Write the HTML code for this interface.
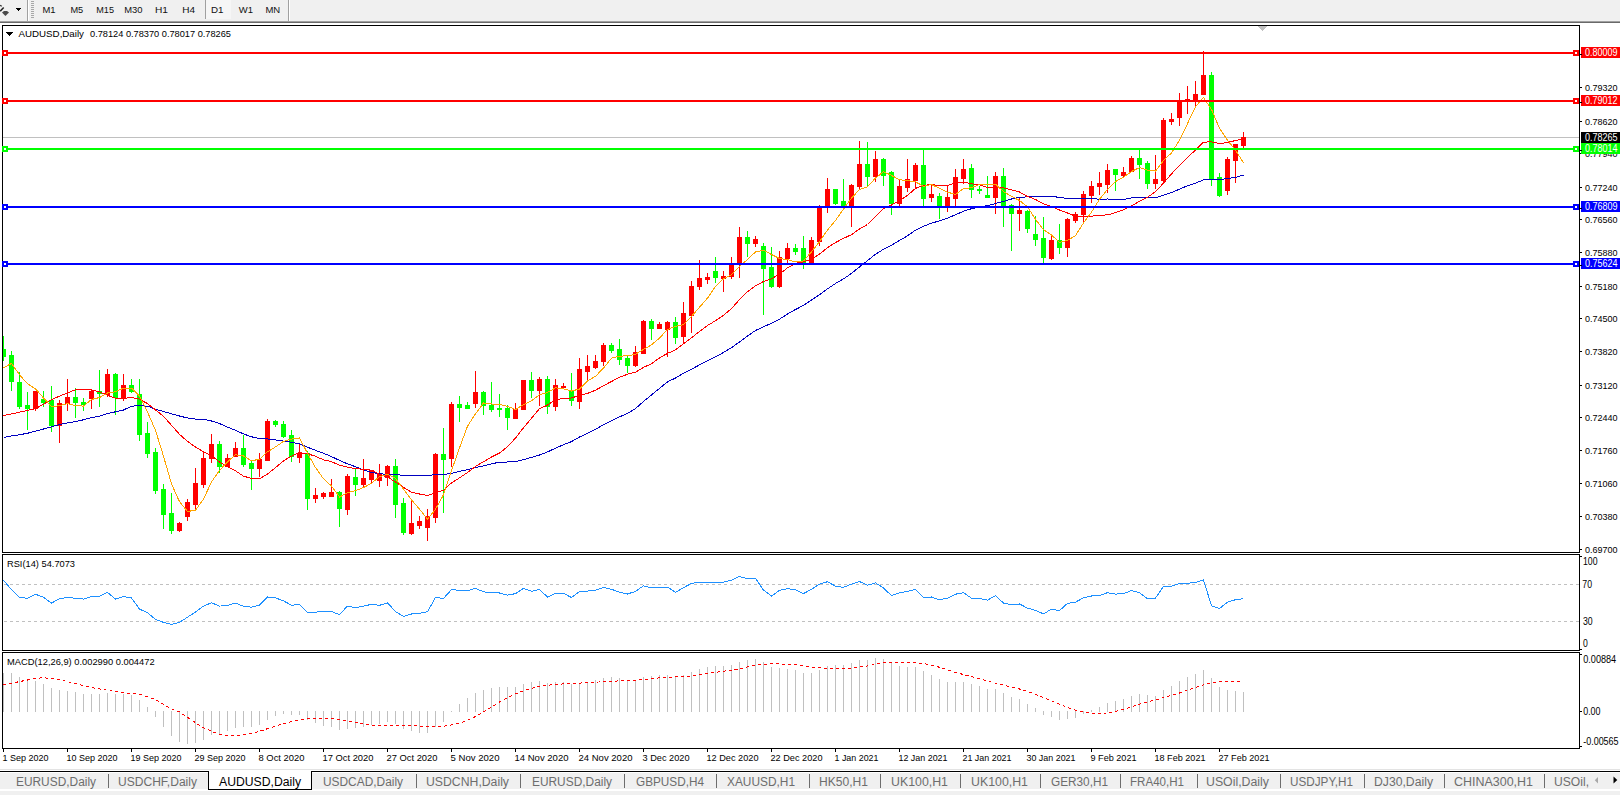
<!DOCTYPE html>
<html><head><meta charset="utf-8"><title>AUDUSD,Daily</title>
<style>html,body{margin:0;padding:0;background:#fff;overflow:hidden;width:1620px;height:795px}svg{display:block}text{font-family:"Liberation Sans",sans-serif}</style>
</head><body>
<svg width="1620" height="795" viewBox="0 0 1620 795" shape-rendering="crispEdges" font-family="Liberation Sans, sans-serif"><rect x="0" y="0" width="1620" height="21" fill="#f0f0f0"/>
<rect x="0" y="21" width="1620" height="1" fill="#a0a0a0"/>
<rect x="0" y="22" width="1620" height="1" fill="#696969"/>
<path d="M0 5.2 L1.8 6.2" stroke="#333" stroke-width="1.3" fill="none" shape-rendering="auto"/>
<path d="M3.7 7.4 L0.2 11.2" stroke="#222" stroke-width="1.5" fill="none" shape-rendering="auto"/>
<path d="M2 12.4 L4 11 L7 11 L9 12.4 L5.4 16 Z" fill="#4a4a4a" shape-rendering="auto"/>
<path d="M16 8 L21 8 L18.5 11 Z" fill="#000"/>
<rect x="27" y="0" width="1" height="21" fill="#a0a0a0"/>
<rect x="28" y="0" width="1" height="21" fill="#ffffff"/>
<rect x="31" y="1" width="3" height="1" fill="#a8a8a8"/>
<rect x="31" y="3" width="3" height="1" fill="#a8a8a8"/>
<rect x="31" y="5" width="3" height="1" fill="#a8a8a8"/>
<rect x="31" y="7" width="3" height="1" fill="#a8a8a8"/>
<rect x="31" y="9" width="3" height="1" fill="#a8a8a8"/>
<rect x="31" y="11" width="3" height="1" fill="#a8a8a8"/>
<rect x="31" y="13" width="3" height="1" fill="#a8a8a8"/>
<rect x="31" y="15" width="3" height="1" fill="#a8a8a8"/>
<rect x="31" y="17" width="3" height="1" fill="#a8a8a8"/>
<rect x="205" y="0" width="1" height="19" fill="#a0a0a0"/>
<rect x="206" y="0" width="25" height="19" fill="#f6f6f6"/>
<rect x="288" y="0" width="1" height="21" fill="#a0a0a0"/>
<rect x="289" y="0" width="1" height="21" fill="#ffffff"/>
<text x="42.5" y="12.8" font-size="9.8" fill="#111" textLength="13.1" lengthAdjust="spacingAndGlyphs">M1</text>
<text x="70.4" y="12.8" font-size="9.8" fill="#111" textLength="12.8" lengthAdjust="spacingAndGlyphs">M5</text>
<text x="96.3" y="12.8" font-size="9.8" fill="#111" textLength="17.7" lengthAdjust="spacingAndGlyphs">M15</text>
<text x="124.2" y="12.8" font-size="9.8" fill="#111" textLength="18.3" lengthAdjust="spacingAndGlyphs">M30</text>
<text x="155" y="12.8" font-size="9.8" fill="#111" textLength="13" lengthAdjust="spacingAndGlyphs">H1</text>
<text x="182.2" y="12.8" font-size="9.8" fill="#111" textLength="12.8" lengthAdjust="spacingAndGlyphs">H4</text>
<text x="211" y="12.8" font-size="9.8" fill="#111" textLength="12.5" lengthAdjust="spacingAndGlyphs">D1</text>
<text x="238.8" y="12.8" font-size="9.8" fill="#111" textLength="14.2" lengthAdjust="spacingAndGlyphs">W1</text>
<text x="265.4" y="12.8" font-size="9.8" fill="#111" textLength="14.8" lengthAdjust="spacingAndGlyphs">MN</text>
<rect x="0" y="23" width="1620" height="772" fill="#ffffff"/>
<rect x="2.5" y="25.5" width="1577" height="527" fill="none" stroke="#000" stroke-width="1"/>
<path d="M1258 26 L1267 26 L1262.5 31 Z" fill="#c0c0c0"/>
<path d="M6 32 L13 32 L9.5 36 Z" fill="#000"/>
<text x="18.5" y="37.2" font-size="9.8" fill="#000" textLength="65.5" lengthAdjust="spacingAndGlyphs">AUDUSD,Daily</text>
<text x="90" y="37.2" font-size="9.8" fill="#000" textLength="141" lengthAdjust="spacingAndGlyphs">0.78124 0.78370 0.78017 0.78265</text>
<rect x="1580" y="87" width="2" height="1" fill="#000"/>
<text x="1585" y="90.5" font-size="9.6" fill="#000" textLength="32.6" lengthAdjust="spacingAndGlyphs">0.79320</text>
<rect x="1580" y="121" width="2" height="1" fill="#000"/>
<text x="1585" y="124.5" font-size="9.6" fill="#000" textLength="32.6" lengthAdjust="spacingAndGlyphs">0.78620</text>
<rect x="1580" y="153" width="2" height="1" fill="#000"/>
<text x="1585" y="156.5" font-size="9.6" fill="#000" textLength="32.6" lengthAdjust="spacingAndGlyphs">0.77940</text>
<rect x="1580" y="187" width="2" height="1" fill="#000"/>
<text x="1585" y="190.5" font-size="9.6" fill="#000" textLength="32.6" lengthAdjust="spacingAndGlyphs">0.77240</text>
<rect x="1580" y="219" width="2" height="1" fill="#000"/>
<text x="1585" y="222.5" font-size="9.6" fill="#000" textLength="32.6" lengthAdjust="spacingAndGlyphs">0.76560</text>
<rect x="1580" y="252" width="2" height="1" fill="#000"/>
<text x="1585" y="255.5" font-size="9.6" fill="#000" textLength="32.6" lengthAdjust="spacingAndGlyphs">0.75880</text>
<rect x="1580" y="286" width="2" height="1" fill="#000"/>
<text x="1585" y="289.5" font-size="9.6" fill="#000" textLength="32.6" lengthAdjust="spacingAndGlyphs">0.75180</text>
<rect x="1580" y="318" width="2" height="1" fill="#000"/>
<text x="1585" y="321.5" font-size="9.6" fill="#000" textLength="32.6" lengthAdjust="spacingAndGlyphs">0.74500</text>
<rect x="1580" y="351" width="2" height="1" fill="#000"/>
<text x="1585" y="354.5" font-size="9.6" fill="#000" textLength="32.6" lengthAdjust="spacingAndGlyphs">0.73820</text>
<rect x="1580" y="385" width="2" height="1" fill="#000"/>
<text x="1585" y="388.5" font-size="9.6" fill="#000" textLength="32.6" lengthAdjust="spacingAndGlyphs">0.73120</text>
<rect x="1580" y="417" width="2" height="1" fill="#000"/>
<text x="1585" y="420.5" font-size="9.6" fill="#000" textLength="32.6" lengthAdjust="spacingAndGlyphs">0.72440</text>
<rect x="1580" y="450" width="2" height="1" fill="#000"/>
<text x="1585" y="453.5" font-size="9.6" fill="#000" textLength="32.6" lengthAdjust="spacingAndGlyphs">0.71760</text>
<rect x="1580" y="483" width="2" height="1" fill="#000"/>
<text x="1585" y="486.5" font-size="9.6" fill="#000" textLength="32.6" lengthAdjust="spacingAndGlyphs">0.71060</text>
<rect x="1580" y="516" width="2" height="1" fill="#000"/>
<text x="1585" y="519.5" font-size="9.6" fill="#000" textLength="32.6" lengthAdjust="spacingAndGlyphs">0.70380</text>
<rect x="1580" y="549" width="2" height="1" fill="#000"/>
<text x="1585" y="552.5" font-size="9.6" fill="#000" textLength="32.6" lengthAdjust="spacingAndGlyphs">0.69700</text>
<rect x="3" y="137" width="1576" height="1" fill="#c0c0c0"/>
<g><rect x="3" y="336" width="1" height="25" fill="#00ff00"/><rect x="3" y="349" width="3" height="8" fill="#00ff00"/><rect x="11" y="351" width="1" height="40" fill="#00ff00"/><rect x="9" y="355" width="5" height="27" fill="#00ff00"/><rect x="19" y="372" width="1" height="37" fill="#00ff00"/><rect x="17" y="382" width="5" height="25" fill="#00ff00"/><rect x="27" y="392" width="1" height="38" fill="#00ff00"/><rect x="25" y="405" width="5" height="4" fill="#00ff00"/><rect x="35" y="391" width="1" height="20" fill="#ff0000"/><rect x="33" y="391" width="5" height="18" fill="#ff0000"/><rect x="43" y="391" width="1" height="16" fill="#00ff00"/><rect x="41" y="399" width="5" height="4" fill="#00ff00"/><rect x="51" y="386" width="1" height="46" fill="#00ff00"/><rect x="49" y="400" width="5" height="26" fill="#00ff00"/><rect x="59" y="400" width="1" height="43" fill="#ff0000"/><rect x="57" y="403" width="5" height="23" fill="#ff0000"/><rect x="67" y="379" width="1" height="32" fill="#ff0000"/><rect x="65" y="397" width="5" height="7" fill="#ff0000"/><rect x="75" y="388" width="1" height="30" fill="#00ff00"/><rect x="73" y="397" width="5" height="6" fill="#00ff00"/><rect x="83" y="398" width="1" height="13" fill="#00ff00"/><rect x="81" y="402" width="5" height="3" fill="#00ff00"/><rect x="91" y="389" width="1" height="20" fill="#ff0000"/><rect x="89" y="391" width="5" height="8" fill="#ff0000"/><rect x="99" y="370" width="1" height="37" fill="#00ff00"/><rect x="97" y="391" width="5" height="3" fill="#00ff00"/><rect x="107" y="369" width="1" height="28" fill="#ff0000"/><rect x="105" y="374" width="5" height="21" fill="#ff0000"/><rect x="115" y="373" width="1" height="42" fill="#00ff00"/><rect x="113" y="374" width="5" height="24" fill="#00ff00"/><rect x="123" y="374" width="1" height="27" fill="#ff0000"/><rect x="121" y="385" width="5" height="13" fill="#ff0000"/><rect x="131" y="379" width="1" height="14" fill="#00ff00"/><rect x="129" y="385" width="5" height="7" fill="#00ff00"/><rect x="139" y="379" width="1" height="62" fill="#00ff00"/><rect x="137" y="394" width="5" height="41" fill="#00ff00"/><rect x="147" y="422" width="1" height="36" fill="#00ff00"/><rect x="145" y="433" width="5" height="21" fill="#00ff00"/><rect x="155" y="448" width="1" height="46" fill="#00ff00"/><rect x="153" y="452" width="5" height="39" fill="#00ff00"/><rect x="163" y="484" width="1" height="45" fill="#00ff00"/><rect x="161" y="489" width="5" height="26" fill="#00ff00"/><rect x="171" y="493" width="1" height="41" fill="#00ff00"/><rect x="169" y="513" width="5" height="18" fill="#00ff00"/><rect x="179" y="522" width="1" height="10" fill="#ff0000"/><rect x="177" y="523" width="5" height="8" fill="#ff0000"/><rect x="187" y="499" width="1" height="22" fill="#ff0000"/><rect x="185" y="502" width="5" height="15" fill="#ff0000"/><rect x="195" y="468" width="1" height="41" fill="#ff0000"/><rect x="193" y="483" width="5" height="22" fill="#ff0000"/><rect x="203" y="451" width="1" height="37" fill="#ff0000"/><rect x="201" y="458" width="5" height="27" fill="#ff0000"/><rect x="211" y="434" width="1" height="29" fill="#ff0000"/><rect x="209" y="444" width="5" height="15" fill="#ff0000"/><rect x="219" y="441" width="1" height="32" fill="#00ff00"/><rect x="217" y="444" width="5" height="23" fill="#00ff00"/><rect x="227" y="454" width="1" height="13" fill="#ff0000"/><rect x="225" y="458" width="5" height="9" fill="#ff0000"/><rect x="235" y="442" width="1" height="15" fill="#ff0000"/><rect x="233" y="448" width="5" height="9" fill="#ff0000"/><rect x="243" y="435" width="1" height="32" fill="#00ff00"/><rect x="241" y="448" width="5" height="17" fill="#00ff00"/><rect x="251" y="461" width="1" height="29" fill="#00ff00"/><rect x="249" y="463" width="5" height="6" fill="#00ff00"/><rect x="259" y="453" width="1" height="24" fill="#ff0000"/><rect x="257" y="459" width="5" height="10" fill="#ff0000"/><rect x="267" y="419" width="1" height="42" fill="#ff0000"/><rect x="265" y="421" width="5" height="40" fill="#ff0000"/><rect x="275" y="420" width="1" height="7" fill="#00ff00"/><rect x="273" y="421" width="5" height="4" fill="#00ff00"/><rect x="283" y="421" width="1" height="17" fill="#00ff00"/><rect x="281" y="424" width="5" height="13" fill="#00ff00"/><rect x="291" y="430" width="1" height="32" fill="#00ff00"/><rect x="289" y="435" width="5" height="22" fill="#00ff00"/><rect x="299" y="444" width="1" height="19" fill="#ff0000"/><rect x="297" y="453" width="5" height="5" fill="#ff0000"/><rect x="307" y="451" width="1" height="59" fill="#00ff00"/><rect x="305" y="453" width="5" height="46" fill="#00ff00"/><rect x="315" y="488" width="1" height="15" fill="#ff0000"/><rect x="313" y="495" width="5" height="4" fill="#ff0000"/><rect x="323" y="492" width="1" height="7" fill="#ff0000"/><rect x="321" y="493" width="5" height="4" fill="#ff0000"/><rect x="331" y="479" width="1" height="18" fill="#ff0000"/><rect x="329" y="492" width="5" height="5" fill="#ff0000"/><rect x="339" y="491" width="1" height="36" fill="#00ff00"/><rect x="337" y="492" width="5" height="17" fill="#00ff00"/><rect x="347" y="474" width="1" height="41" fill="#ff0000"/><rect x="345" y="476" width="5" height="34" fill="#ff0000"/><rect x="355" y="469" width="1" height="27" fill="#00ff00"/><rect x="353" y="477" width="5" height="8" fill="#00ff00"/><rect x="363" y="459" width="1" height="28" fill="#ff0000"/><rect x="361" y="478" width="5" height="7" fill="#ff0000"/><rect x="371" y="470" width="1" height="14" fill="#ff0000"/><rect x="369" y="470" width="5" height="10" fill="#ff0000"/><rect x="379" y="464" width="1" height="23" fill="#ff0000"/><rect x="377" y="474" width="5" height="7" fill="#ff0000"/><rect x="387" y="465" width="1" height="21" fill="#ff0000"/><rect x="385" y="466" width="5" height="12" fill="#ff0000"/><rect x="395" y="459" width="1" height="59" fill="#00ff00"/><rect x="393" y="466" width="5" height="39" fill="#00ff00"/><rect x="403" y="498" width="1" height="37" fill="#00ff00"/><rect x="401" y="503" width="5" height="30" fill="#00ff00"/><rect x="411" y="501" width="1" height="34" fill="#ff0000"/><rect x="409" y="523" width="5" height="11" fill="#ff0000"/><rect x="419" y="516" width="1" height="13" fill="#ff0000"/><rect x="417" y="521" width="5" height="5" fill="#ff0000"/><rect x="427" y="509" width="1" height="32" fill="#ff0000"/><rect x="425" y="516" width="5" height="12" fill="#ff0000"/><rect x="435" y="453" width="1" height="70" fill="#ff0000"/><rect x="433" y="454" width="5" height="64" fill="#ff0000"/><rect x="443" y="428" width="1" height="85" fill="#00ff00"/><rect x="441" y="454" width="5" height="6" fill="#00ff00"/><rect x="451" y="402" width="1" height="65" fill="#ff0000"/><rect x="449" y="404" width="5" height="55" fill="#ff0000"/><rect x="459" y="396" width="1" height="26" fill="#00ff00"/><rect x="457" y="404" width="5" height="4" fill="#00ff00"/><rect x="467" y="402" width="1" height="7" fill="#00ff00"/><rect x="465" y="405" width="5" height="4" fill="#00ff00"/><rect x="475" y="371" width="1" height="37" fill="#ff0000"/><rect x="473" y="392" width="5" height="12" fill="#ff0000"/><rect x="483" y="391" width="1" height="24" fill="#00ff00"/><rect x="481" y="392" width="5" height="14" fill="#00ff00"/><rect x="491" y="382" width="1" height="30" fill="#00ff00"/><rect x="489" y="405" width="5" height="5" fill="#00ff00"/><rect x="499" y="394" width="1" height="23" fill="#00ff00"/><rect x="497" y="408" width="5" height="2" fill="#00ff00"/><rect x="507" y="405" width="1" height="25" fill="#00ff00"/><rect x="505" y="408" width="5" height="10" fill="#00ff00"/><rect x="515" y="403" width="1" height="16" fill="#ff0000"/><rect x="513" y="409" width="5" height="10" fill="#ff0000"/><rect x="523" y="380" width="1" height="30" fill="#ff0000"/><rect x="521" y="380" width="5" height="30" fill="#ff0000"/><rect x="531" y="372" width="1" height="26" fill="#00ff00"/><rect x="529" y="380" width="5" height="11" fill="#00ff00"/><rect x="539" y="377" width="1" height="29" fill="#ff0000"/><rect x="537" y="379" width="5" height="12" fill="#ff0000"/><rect x="547" y="376" width="1" height="38" fill="#00ff00"/><rect x="545" y="379" width="5" height="28" fill="#00ff00"/><rect x="555" y="379" width="1" height="32" fill="#ff0000"/><rect x="553" y="385" width="5" height="22" fill="#ff0000"/><rect x="563" y="383" width="1" height="6" fill="#ff0000"/><rect x="561" y="386" width="5" height="2" fill="#ff0000"/><rect x="571" y="373" width="1" height="33" fill="#00ff00"/><rect x="569" y="390" width="5" height="11" fill="#00ff00"/><rect x="579" y="358" width="1" height="51" fill="#ff0000"/><rect x="577" y="369" width="5" height="33" fill="#ff0000"/><rect x="587" y="355" width="1" height="26" fill="#ff0000"/><rect x="585" y="366" width="5" height="6" fill="#ff0000"/><rect x="595" y="355" width="1" height="14" fill="#ff0000"/><rect x="593" y="361" width="5" height="7" fill="#ff0000"/><rect x="603" y="343" width="1" height="23" fill="#ff0000"/><rect x="601" y="345" width="5" height="17" fill="#ff0000"/><rect x="611" y="343" width="1" height="10" fill="#00ff00"/><rect x="609" y="345" width="5" height="6" fill="#00ff00"/><rect x="619" y="339" width="1" height="26" fill="#00ff00"/><rect x="617" y="349" width="5" height="11" fill="#00ff00"/><rect x="627" y="356" width="1" height="17" fill="#00ff00"/><rect x="625" y="358" width="5" height="8" fill="#00ff00"/><rect x="635" y="346" width="1" height="21" fill="#ff0000"/><rect x="633" y="352" width="5" height="14" fill="#ff0000"/><rect x="643" y="320" width="1" height="34" fill="#ff0000"/><rect x="641" y="321" width="5" height="33" fill="#ff0000"/><rect x="651" y="319" width="1" height="21" fill="#00ff00"/><rect x="649" y="321" width="5" height="8" fill="#00ff00"/><rect x="659" y="322" width="1" height="7" fill="#ff0000"/><rect x="657" y="324" width="5" height="5" fill="#ff0000"/><rect x="667" y="321" width="1" height="36" fill="#ff0000"/><rect x="665" y="322" width="5" height="8" fill="#ff0000"/><rect x="675" y="317" width="1" height="27" fill="#00ff00"/><rect x="673" y="322" width="5" height="16" fill="#00ff00"/><rect x="683" y="302" width="1" height="41" fill="#ff0000"/><rect x="681" y="313" width="5" height="24" fill="#ff0000"/><rect x="691" y="281" width="1" height="52" fill="#ff0000"/><rect x="689" y="286" width="5" height="30" fill="#ff0000"/><rect x="699" y="260" width="1" height="30" fill="#ff0000"/><rect x="697" y="278" width="5" height="9" fill="#ff0000"/><rect x="707" y="273" width="1" height="11" fill="#ff0000"/><rect x="705" y="277" width="5" height="3" fill="#ff0000"/><rect x="715" y="257" width="1" height="26" fill="#00ff00"/><rect x="713" y="271" width="5" height="7" fill="#00ff00"/><rect x="723" y="271" width="1" height="21" fill="#ff0000"/><rect x="721" y="276" width="5" height="3" fill="#ff0000"/><rect x="731" y="257" width="1" height="22" fill="#ff0000"/><rect x="729" y="265" width="5" height="12" fill="#ff0000"/><rect x="739" y="227" width="1" height="51" fill="#ff0000"/><rect x="737" y="237" width="5" height="28" fill="#ff0000"/><rect x="747" y="231" width="1" height="26" fill="#00ff00"/><rect x="745" y="237" width="5" height="7" fill="#00ff00"/><rect x="755" y="236" width="1" height="11" fill="#ff0000"/><rect x="753" y="239" width="5" height="5" fill="#ff0000"/><rect x="763" y="243" width="1" height="72" fill="#00ff00"/><rect x="761" y="246" width="5" height="23" fill="#00ff00"/><rect x="771" y="247" width="1" height="41" fill="#00ff00"/><rect x="769" y="267" width="5" height="20" fill="#00ff00"/><rect x="779" y="251" width="1" height="37" fill="#ff0000"/><rect x="777" y="257" width="5" height="30" fill="#ff0000"/><rect x="787" y="243" width="1" height="20" fill="#ff0000"/><rect x="785" y="248" width="5" height="11" fill="#ff0000"/><rect x="795" y="244" width="1" height="11" fill="#00ff00"/><rect x="793" y="248" width="5" height="4" fill="#00ff00"/><rect x="803" y="236" width="1" height="33" fill="#00ff00"/><rect x="801" y="248" width="5" height="16" fill="#00ff00"/><rect x="811" y="237" width="1" height="27" fill="#ff0000"/><rect x="809" y="240" width="5" height="24" fill="#ff0000"/><rect x="819" y="205" width="1" height="41" fill="#ff0000"/><rect x="817" y="207" width="5" height="35" fill="#ff0000"/><rect x="827" y="178" width="1" height="35" fill="#ff0000"/><rect x="825" y="189" width="5" height="18" fill="#ff0000"/><rect x="835" y="189" width="1" height="16" fill="#00ff00"/><rect x="833" y="189" width="5" height="15" fill="#00ff00"/><rect x="843" y="179" width="1" height="29" fill="#00ff00"/><rect x="841" y="201" width="5" height="6" fill="#00ff00"/><rect x="851" y="184" width="1" height="43" fill="#ff0000"/><rect x="849" y="185" width="5" height="21" fill="#ff0000"/><rect x="859" y="141" width="1" height="49" fill="#ff0000"/><rect x="857" y="164" width="5" height="23" fill="#ff0000"/><rect x="867" y="142" width="1" height="45" fill="#00ff00"/><rect x="865" y="164" width="5" height="13" fill="#00ff00"/><rect x="875" y="151" width="1" height="31" fill="#ff0000"/><rect x="873" y="159" width="5" height="18" fill="#ff0000"/><rect x="883" y="158" width="1" height="28" fill="#00ff00"/><rect x="881" y="159" width="5" height="17" fill="#00ff00"/><rect x="891" y="171" width="1" height="44" fill="#00ff00"/><rect x="889" y="172" width="5" height="32" fill="#00ff00"/><rect x="899" y="180" width="1" height="27" fill="#ff0000"/><rect x="897" y="186" width="5" height="18" fill="#ff0000"/><rect x="907" y="159" width="1" height="33" fill="#ff0000"/><rect x="905" y="179" width="5" height="9" fill="#ff0000"/><rect x="915" y="163" width="1" height="25" fill="#ff0000"/><rect x="913" y="165" width="5" height="16" fill="#ff0000"/><rect x="923" y="149" width="1" height="57" fill="#00ff00"/><rect x="921" y="165" width="5" height="34" fill="#00ff00"/><rect x="931" y="185" width="1" height="17" fill="#ff0000"/><rect x="929" y="194" width="5" height="4" fill="#ff0000"/><rect x="939" y="193" width="1" height="26" fill="#00ff00"/><rect x="937" y="196" width="5" height="11" fill="#00ff00"/><rect x="947" y="186" width="1" height="26" fill="#ff0000"/><rect x="945" y="197" width="5" height="10" fill="#ff0000"/><rect x="955" y="169" width="1" height="37" fill="#ff0000"/><rect x="953" y="177" width="5" height="22" fill="#ff0000"/><rect x="963" y="159" width="1" height="25" fill="#ff0000"/><rect x="961" y="169" width="5" height="10" fill="#ff0000"/><rect x="971" y="164" width="1" height="34" fill="#00ff00"/><rect x="969" y="168" width="5" height="22" fill="#00ff00"/><rect x="979" y="186" width="1" height="8" fill="#00ff00"/><rect x="977" y="189" width="5" height="2" fill="#00ff00"/><rect x="987" y="176" width="1" height="22" fill="#00ff00"/><rect x="985" y="195" width="5" height="3" fill="#00ff00"/><rect x="995" y="172" width="1" height="42" fill="#ff0000"/><rect x="993" y="176" width="5" height="22" fill="#ff0000"/><rect x="1003" y="168" width="1" height="59" fill="#00ff00"/><rect x="1001" y="176" width="5" height="31" fill="#00ff00"/><rect x="1011" y="204" width="1" height="47" fill="#00ff00"/><rect x="1009" y="205" width="5" height="9" fill="#00ff00"/><rect x="1019" y="198" width="1" height="33" fill="#ff0000"/><rect x="1017" y="210" width="5" height="4" fill="#ff0000"/><rect x="1027" y="210" width="1" height="23" fill="#00ff00"/><rect x="1025" y="211" width="5" height="18" fill="#00ff00"/><rect x="1035" y="216" width="1" height="30" fill="#00ff00"/><rect x="1033" y="234" width="5" height="6" fill="#00ff00"/><rect x="1043" y="217" width="1" height="46" fill="#00ff00"/><rect x="1041" y="238" width="5" height="20" fill="#00ff00"/><rect x="1051" y="236" width="1" height="24" fill="#ff0000"/><rect x="1049" y="240" width="5" height="19" fill="#ff0000"/><rect x="1059" y="224" width="1" height="30" fill="#00ff00"/><rect x="1057" y="240" width="5" height="8" fill="#00ff00"/><rect x="1067" y="218" width="1" height="39" fill="#ff0000"/><rect x="1065" y="219" width="5" height="29" fill="#ff0000"/><rect x="1075" y="212" width="1" height="11" fill="#ff0000"/><rect x="1073" y="214" width="5" height="7" fill="#ff0000"/><rect x="1083" y="191" width="1" height="33" fill="#ff0000"/><rect x="1081" y="194" width="5" height="21" fill="#ff0000"/><rect x="1091" y="181" width="1" height="22" fill="#ff0000"/><rect x="1089" y="186" width="5" height="10" fill="#ff0000"/><rect x="1099" y="172" width="1" height="23" fill="#ff0000"/><rect x="1097" y="183" width="5" height="4" fill="#ff0000"/><rect x="1107" y="164" width="1" height="29" fill="#ff0000"/><rect x="1105" y="170" width="5" height="15" fill="#ff0000"/><rect x="1115" y="169" width="1" height="22" fill="#00ff00"/><rect x="1113" y="169" width="5" height="6" fill="#00ff00"/><rect x="1123" y="167" width="1" height="10" fill="#ff0000"/><rect x="1121" y="172" width="5" height="4" fill="#ff0000"/><rect x="1131" y="156" width="1" height="16" fill="#ff0000"/><rect x="1129" y="158" width="5" height="14" fill="#ff0000"/><rect x="1139" y="149" width="1" height="30" fill="#00ff00"/><rect x="1137" y="158" width="5" height="7" fill="#00ff00"/><rect x="1147" y="161" width="1" height="28" fill="#00ff00"/><rect x="1145" y="163" width="5" height="21" fill="#00ff00"/><rect x="1155" y="155" width="1" height="34" fill="#ff0000"/><rect x="1153" y="179" width="5" height="5" fill="#ff0000"/><rect x="1163" y="118" width="1" height="64" fill="#ff0000"/><rect x="1161" y="120" width="5" height="61" fill="#ff0000"/><rect x="1171" y="113" width="1" height="12" fill="#ff0000"/><rect x="1169" y="119" width="5" height="3" fill="#ff0000"/><rect x="1179" y="93" width="1" height="33" fill="#ff0000"/><rect x="1177" y="101" width="5" height="17" fill="#ff0000"/><rect x="1187" y="86" width="1" height="28" fill="#ff0000"/><rect x="1185" y="99" width="5" height="2" fill="#ff0000"/><rect x="1195" y="81" width="1" height="26" fill="#ff0000"/><rect x="1193" y="94" width="5" height="8" fill="#ff0000"/><rect x="1203" y="51" width="1" height="44" fill="#ff0000"/><rect x="1201" y="75" width="5" height="20" fill="#ff0000"/><rect x="1211" y="72" width="1" height="114" fill="#00ff00"/><rect x="1209" y="75" width="5" height="104" fill="#00ff00"/><rect x="1219" y="173" width="1" height="24" fill="#00ff00"/><rect x="1217" y="177" width="5" height="19" fill="#00ff00"/><rect x="1227" y="157" width="1" height="38" fill="#ff0000"/><rect x="1225" y="159" width="5" height="32" fill="#ff0000"/><rect x="1235" y="144" width="1" height="39" fill="#ff0000"/><rect x="1233" y="144" width="5" height="17" fill="#ff0000"/><rect x="1243" y="132" width="1" height="17" fill="#ff0000"/><rect x="1241" y="137" width="5" height="9" fill="#ff0000"/></g>
<polyline points="3.5,437.4 11.5,436.0 19.5,434.7 27.5,433.3 35.5,431.1 43.5,429.0 51.5,426.8 59.5,424.5 67.5,423.0 75.5,421.5 83.5,419.8 91.5,417.5 99.5,416.3 107.5,413.5 115.5,411.8 123.5,410.0 131.5,406.2 139.5,405.5 147.5,406.2 155.5,409.2 163.5,411.5 171.5,413.8 179.5,416.0 187.5,418.0 195.5,419.1 203.5,419.1 211.5,421.0 219.5,423.6 227.5,427.1 235.5,430.3 243.5,433.9 251.5,436.8 259.5,438.5 267.5,438.9 275.5,440.0 283.5,441.1 291.5,442.2 299.5,443.9 307.5,447.2 315.5,450.3 323.5,453.3 331.5,456.6 339.5,460.4 347.5,463.9 355.5,466.7 363.5,469.9 371.5,472.5 379.5,473.8 387.5,474.3 395.5,474.7 403.5,475.3 411.5,475.1 419.5,475.1 427.5,475.5 435.5,474.6 443.5,474.6 451.5,473.3 459.5,471.3 467.5,469.6 475.5,467.7 483.5,465.8 491.5,463.8 499.5,462.2 507.5,462.0 515.5,461.5 523.5,459.7 531.5,457.4 539.5,455.0 547.5,451.9 555.5,448.2 563.5,444.7 571.5,441.6 579.5,437.0 587.5,433.3 595.5,429.2 603.5,424.8 611.5,420.7 619.5,416.9 627.5,413.5 635.5,408.5 643.5,401.5 651.5,394.9 659.5,388.4 667.5,381.9 675.5,378.0 683.5,373.1 691.5,369.2 699.5,364.9 707.5,360.6 715.5,356.8 723.5,352.5 731.5,347.7 739.5,341.9 747.5,336.1 755.5,330.5 763.5,326.7 771.5,323.3 779.5,319.2 787.5,314.0 795.5,309.5 803.5,305.4 811.5,300.1 819.5,294.7 827.5,288.8 835.5,283.5 843.5,278.9 851.5,273.4 859.5,266.9 867.5,260.6 875.5,254.2 883.5,249.3 891.5,245.1 899.5,240.5 907.5,235.8 915.5,230.1 923.5,226.2 931.5,223.2 939.5,220.8 947.5,218.1 955.5,214.8 963.5,211.2 971.5,208.7 979.5,207.1 987.5,205.6 995.5,203.5 1003.5,201.4 1011.5,199.0 1019.5,197.4 1027.5,196.8 1035.5,196.4 1043.5,196.2 1051.5,196.2 1059.5,197.5 1067.5,198.5 1075.5,198.9 1083.5,198.5 1091.5,198.5 1099.5,199.2 1107.5,199.0 1115.5,199.5 1123.5,199.4 1131.5,197.9 1139.5,197.1 1147.5,197.2 1155.5,197.7 1163.5,195.1 1171.5,192.6 1179.5,189.1 1187.5,185.8 1195.5,183.1 1203.5,179.9 1211.5,179.6 1219.5,179.7 1227.5,178.5 1235.5,177.4 1243.5,175.1" fill="none" stroke="#0000c0" stroke-width="1" />
<polyline points="3.5,415.5 11.5,413.9 19.5,412.2 27.5,410.4 35.5,408.7 43.5,404.1 51.5,399.6 59.5,396.2 67.5,392.8 75.5,389.8 83.5,389.3 91.5,389.9 99.5,391.9 107.5,395.3 115.5,398.2 123.5,398.5 131.5,397.4 139.5,399.2 147.5,403.6 155.5,409.9 163.5,416.3 171.5,425.3 179.5,434.3 187.5,441.4 195.5,447.1 203.5,451.8 211.5,455.4 219.5,462.0 227.5,466.4 235.5,470.9 243.5,476.1 251.5,478.5 259.5,478.9 267.5,474.0 275.5,467.6 283.5,460.9 291.5,456.1 299.5,452.6 307.5,453.7 315.5,456.3 323.5,459.8 331.5,461.7 339.5,465.2 347.5,467.2 355.5,468.6 363.5,469.4 371.5,470.2 379.5,474.1 387.5,477.1 395.5,481.9 403.5,487.3 411.5,492.3 419.5,494.0 427.5,495.5 435.5,492.7 443.5,490.4 451.5,482.9 459.5,477.9 467.5,472.5 475.5,466.4 483.5,461.7 491.5,457.0 499.5,453.0 507.5,446.8 515.5,438.0 523.5,427.7 531.5,418.3 539.5,408.6 547.5,405.1 555.5,399.8 563.5,398.5 571.5,398.0 579.5,395.3 587.5,393.4 595.5,390.2 603.5,385.7 611.5,381.5 619.5,377.3 627.5,374.2 635.5,372.2 643.5,367.4 651.5,363.7 659.5,357.9 667.5,353.4 675.5,349.9 683.5,343.7 691.5,337.8 699.5,331.5 707.5,325.5 715.5,320.7 723.5,315.4 731.5,308.6 739.5,299.5 747.5,291.7 755.5,285.8 763.5,281.5 771.5,278.8 779.5,274.2 787.5,267.8 795.5,263.4 803.5,261.8 811.5,259.0 819.5,254.1 827.5,247.7 835.5,242.5 843.5,238.4 851.5,234.6 859.5,229.0 867.5,224.5 875.5,216.7 883.5,208.8 891.5,205.0 899.5,200.6 907.5,195.4 915.5,188.4 923.5,185.4 931.5,184.5 939.5,185.7 947.5,185.3 955.5,183.2 963.5,182.0 971.5,183.8 979.5,184.9 987.5,187.6 995.5,187.6 1003.5,187.8 1011.5,189.8 1019.5,192.0 1027.5,196.5 1035.5,199.4 1043.5,203.9 1051.5,206.4 1059.5,210.0 1067.5,213.0 1075.5,216.2 1083.5,216.6 1091.5,216.2 1099.5,215.3 1107.5,214.9 1115.5,212.6 1123.5,209.7 1131.5,205.9 1139.5,201.3 1147.5,197.3 1155.5,191.7 1163.5,183.1 1171.5,173.9 1179.5,165.5 1187.5,157.3 1195.5,150.1 1203.5,142.2 1211.5,141.8 1219.5,143.6 1227.5,142.5 1235.5,140.5 1243.5,139.1" fill="none" stroke="#ff0000" stroke-width="1" />
<polyline points="3.5,367.9 11.5,363.4 19.5,374.7 27.5,383.8 35.5,388.8 43.5,397.9 51.5,406.5 59.5,405.8 67.5,403.5 75.5,405.7 83.5,406.1 91.5,399.5 99.5,397.5 107.5,393.0 115.5,391.8 123.5,388.1 131.5,388.1 139.5,396.2 147.5,411.9 155.5,430.5 163.5,456.2 171.5,483.9 179.5,501.7 187.5,511.5 195.5,510.2 203.5,499.1 211.5,481.9 219.5,470.5 227.5,461.8 235.5,454.8 243.5,456.0 251.5,460.7 259.5,459.3 267.5,451.8 275.5,446.9 283.5,441.4 291.5,439.1 299.5,437.9 307.5,453.3 315.5,467.5 323.5,478.8 331.5,486.0 339.5,497.0 347.5,492.8 355.5,490.6 363.5,487.6 371.5,483.3 379.5,476.6 387.5,474.4 395.5,478.4 403.5,489.2 411.5,499.8 419.5,509.1 427.5,519.1 435.5,509.3 443.5,494.7 451.5,470.7 459.5,447.9 467.5,426.2 475.5,413.8 483.5,403.0 491.5,404.0 499.5,404.5 507.5,406.3 515.5,409.6 523.5,404.6 531.5,400.8 539.5,394.8 547.5,392.5 555.5,387.8 563.5,388.9 571.5,391.0 579.5,389.0 587.5,381.1 595.5,376.3 603.5,368.1 611.5,358.1 619.5,356.1 627.5,355.9 635.5,354.2 643.5,349.5 651.5,344.9 659.5,338.0 667.5,329.5 675.5,326.3 683.5,324.7 691.5,316.4 699.5,307.2 707.5,298.1 715.5,286.3 723.5,278.9 731.5,274.6 739.5,266.4 747.5,259.5 755.5,251.9 763.5,250.2 771.5,254.5 779.5,258.5 787.5,259.6 795.5,262.0 803.5,261.0 811.5,251.8 819.5,241.8 827.5,230.0 835.5,220.4 843.5,209.1 851.5,198.1 859.5,189.5 867.5,186.8 875.5,178.0 883.5,171.8 891.5,175.4 899.5,179.8 907.5,180.6 915.5,181.8 923.5,186.3 931.5,184.5 939.5,188.4 947.5,192.1 955.5,194.5 963.5,188.6 971.5,187.7 979.5,184.5 987.5,184.4 995.5,184.1 1003.5,191.6 1011.5,196.4 1019.5,200.5 1027.5,206.8 1035.5,219.4 1043.5,229.6 1051.5,235.0 1059.5,242.4 1067.5,240.5 1075.5,235.6 1083.5,223.0 1091.5,212.1 1099.5,199.3 1107.5,189.5 1115.5,181.5 1123.5,177.2 1131.5,171.5 1139.5,167.6 1147.5,170.1 1155.5,171.1 1163.5,160.6 1171.5,152.9 1179.5,140.3 1187.5,123.6 1195.5,106.6 1203.5,97.6 1211.5,109.4 1219.5,128.3 1227.5,140.2 1235.5,150.3 1243.5,162.7" fill="none" stroke="#ffa500" stroke-width="1" />
<rect x="3" y="52" width="1576" height="2" fill="#ff0000"/>
<rect x="2" y="50" width="6" height="6" fill="#ff0000"/>
<rect x="4" y="52" width="2" height="2" fill="#fff"/>
<rect x="1573" y="50" width="6" height="6" fill="#ff0000"/>
<rect x="1575" y="52" width="2" height="2" fill="#fff"/>
<rect x="1581" y="47" width="39" height="11" fill="#ff0000"/>
<rect x="1580" y="54" width="2" height="1" fill="#000"/>
<text x="1585" y="55.6" font-size="10" fill="#fff" textLength="32.6" lengthAdjust="spacingAndGlyphs">0.80009</text>
<rect x="3" y="100" width="1576" height="2" fill="#ff0000"/>
<rect x="2" y="98" width="6" height="6" fill="#ff0000"/>
<rect x="4" y="100" width="2" height="2" fill="#fff"/>
<rect x="1573" y="98" width="6" height="6" fill="#ff0000"/>
<rect x="1575" y="100" width="2" height="2" fill="#fff"/>
<rect x="1581" y="95" width="39" height="11" fill="#ff0000"/>
<rect x="1580" y="102" width="2" height="1" fill="#000"/>
<text x="1585" y="103.6" font-size="10" fill="#fff" textLength="32.6" lengthAdjust="spacingAndGlyphs">0.79012</text>
<rect x="3" y="148" width="1576" height="2" fill="#00ff00"/>
<rect x="2" y="146" width="6" height="6" fill="#00ff00"/>
<rect x="4" y="148" width="2" height="2" fill="#fff"/>
<rect x="1573" y="146" width="6" height="6" fill="#00ff00"/>
<rect x="1575" y="148" width="2" height="2" fill="#fff"/>
<rect x="1581" y="143" width="39" height="11" fill="#00ff00"/>
<rect x="1580" y="150" width="2" height="1" fill="#000"/>
<text x="1585" y="151.6" font-size="10" fill="#fff" textLength="32.6" lengthAdjust="spacingAndGlyphs">0.78014</text>
<rect x="3" y="206" width="1576" height="2" fill="#0000ff"/>
<rect x="2" y="204" width="6" height="6" fill="#0000ff"/>
<rect x="4" y="206" width="2" height="2" fill="#fff"/>
<rect x="1573" y="204" width="6" height="6" fill="#0000ff"/>
<rect x="1575" y="206" width="2" height="2" fill="#fff"/>
<rect x="1581" y="201" width="39" height="11" fill="#0000ff"/>
<rect x="1580" y="208" width="2" height="1" fill="#000"/>
<text x="1585" y="209.6" font-size="10" fill="#fff" textLength="32.6" lengthAdjust="spacingAndGlyphs">0.76809</text>
<rect x="3" y="263" width="1576" height="2" fill="#0000ff"/>
<rect x="2" y="261" width="6" height="6" fill="#0000ff"/>
<rect x="4" y="263" width="2" height="2" fill="#fff"/>
<rect x="1573" y="261" width="6" height="6" fill="#0000ff"/>
<rect x="1575" y="263" width="2" height="2" fill="#fff"/>
<rect x="1581" y="258" width="39" height="11" fill="#0000ff"/>
<rect x="1580" y="265" width="2" height="1" fill="#000"/>
<text x="1585" y="266.6" font-size="10" fill="#fff" textLength="32.6" lengthAdjust="spacingAndGlyphs">0.75624</text>
<rect x="1581" y="132" width="39" height="11" fill="#000"/>
<text x="1585" y="140.6" font-size="10" fill="#fff" textLength="32.6" lengthAdjust="spacingAndGlyphs">0.78265</text>
<rect x="2.5" y="554.5" width="1577" height="96" fill="none" stroke="#000"/>
<line x1="4" y1="584.5" x2="1579" y2="584.5" stroke="#c0c0c0" stroke-dasharray="3,3"/>
<line x1="4" y1="621.5" x2="1579" y2="621.5" stroke="#c0c0c0" stroke-dasharray="3,3"/>
<text x="7" y="567" font-size="9.8" fill="#000" textLength="68" lengthAdjust="spacingAndGlyphs">RSI(14) 54.7073</text>
<polyline points="3.5,580.2 11.5,589.8 19.5,597.2 27.5,598.4 35.5,594.3 43.5,597.2 51.5,603.1 59.5,598.7 67.5,597.5 75.5,598.3 83.5,599.1 91.5,596.5 99.5,596.2 107.5,592.3 115.5,599.1 123.5,596.5 131.5,598.0 139.5,609.1 147.5,612.8 155.5,619.4 163.5,622.4 171.5,624.3 179.5,622.4 187.5,617.2 195.5,612.0 203.5,606.1 211.5,602.7 219.5,606.1 227.5,605.4 235.5,603.1 243.5,606.3 251.5,607.2 259.5,605.2 267.5,597.0 275.5,597.9 283.5,600.9 291.5,605.2 299.5,604.5 307.5,612.7 315.5,612.1 323.5,611.7 331.5,611.6 339.5,614.5 347.5,606.1 355.5,607.6 363.5,606.2 371.5,604.3 379.5,605.3 387.5,602.9 395.5,611.5 403.5,616.4 411.5,614.0 419.5,613.3 427.5,611.8 435.5,597.4 443.5,598.5 451.5,589.6 459.5,590.4 467.5,590.7 475.5,588.4 483.5,591.8 491.5,592.9 499.5,593.0 507.5,595.2 515.5,593.6 523.5,588.3 531.5,591.3 539.5,589.4 547.5,597.1 555.5,593.2 563.5,593.4 571.5,597.5 579.5,591.5 587.5,591.1 595.5,590.2 603.5,587.4 611.5,589.3 619.5,592.1 627.5,594.0 635.5,591.4 643.5,585.8 651.5,588.0 659.5,587.4 667.5,587.1 675.5,592.4 683.5,587.7 691.5,583.4 699.5,582.3 707.5,582.2 715.5,582.3 723.5,582.1 731.5,580.2 739.5,576.4 747.5,578.9 755.5,578.4 763.5,590.1 771.5,596.1 779.5,590.3 787.5,588.7 795.5,589.8 803.5,593.6 811.5,589.2 819.5,584.1 827.5,581.7 835.5,586.2 843.5,587.3 851.5,584.1 859.5,581.5 867.5,585.2 875.5,582.9 883.5,588.0 891.5,595.6 899.5,592.7 907.5,591.5 915.5,589.2 923.5,597.7 931.5,597.0 939.5,599.9 947.5,598.1 955.5,594.2 963.5,592.7 971.5,598.2 979.5,598.4 987.5,600.1 995.5,595.6 1003.5,603.1 1011.5,604.8 1019.5,604.0 1027.5,608.1 1035.5,610.3 1043.5,613.9 1051.5,609.1 1059.5,610.6 1067.5,603.3 1075.5,602.2 1083.5,597.7 1091.5,596.0 1099.5,595.4 1107.5,592.7 1115.5,594.1 1123.5,593.6 1131.5,590.5 1139.5,592.6 1147.5,598.9 1155.5,598.0 1163.5,586.4 1171.5,586.2 1179.5,583.6 1187.5,583.3 1195.5,582.5 1203.5,579.9 1211.5,605.8 1219.5,608.6 1227.5,602.1 1235.5,599.7 1243.5,598.7" fill="none" stroke="#1e90ff" stroke-width="1" />
<text x="1583" y="565.1" font-size="10" fill="#000" textLength="14.5" lengthAdjust="spacingAndGlyphs">100</text>
<text x="1582.3" y="588.1" font-size="10" fill="#000" textLength="9.7" lengthAdjust="spacingAndGlyphs">70</text>
<text x="1583" y="624.5" font-size="10" fill="#000" textLength="9.7" lengthAdjust="spacingAndGlyphs">30</text>
<text x="1583" y="647.1" font-size="10" fill="#000" textLength="4.8" lengthAdjust="spacingAndGlyphs">0</text>
<rect x="1580" y="556" width="2" height="1" fill="#000"/>
<rect x="1580" y="649" width="2" height="1" fill="#000"/>
<rect x="2.5" y="652.5" width="1577" height="96" fill="none" stroke="#000"/>
<g><rect x="3" y="673" width="1" height="39" fill="#c0c0c0"/><rect x="11" y="673" width="1" height="39" fill="#c0c0c0"/><rect x="19" y="677" width="1" height="35" fill="#c0c0c0"/><rect x="27" y="680" width="1" height="32" fill="#c0c0c0"/><rect x="35" y="681" width="1" height="31" fill="#c0c0c0"/><rect x="43" y="684" width="1" height="28" fill="#c0c0c0"/><rect x="51" y="688" width="1" height="24" fill="#c0c0c0"/><rect x="59" y="690" width="1" height="22" fill="#c0c0c0"/><rect x="67" y="691" width="1" height="21" fill="#c0c0c0"/><rect x="75" y="692" width="1" height="20" fill="#c0c0c0"/><rect x="83" y="694" width="1" height="18" fill="#c0c0c0"/><rect x="91" y="694" width="1" height="18" fill="#c0c0c0"/><rect x="99" y="694" width="1" height="18" fill="#c0c0c0"/><rect x="107" y="693" width="1" height="19" fill="#c0c0c0"/><rect x="115" y="694" width="1" height="18" fill="#c0c0c0"/><rect x="123" y="694" width="1" height="18" fill="#c0c0c0"/><rect x="131" y="695" width="1" height="17" fill="#c0c0c0"/><rect x="139" y="700" width="1" height="12" fill="#c0c0c0"/><rect x="147" y="707" width="1" height="5" fill="#c0c0c0"/><rect x="155" y="711" width="1" height="6" fill="#c0c0c0"/><rect x="163" y="711" width="1" height="16" fill="#c0c0c0"/><rect x="171" y="711" width="1" height="25" fill="#c0c0c0"/><rect x="179" y="711" width="1" height="31" fill="#c0c0c0"/><rect x="187" y="711" width="1" height="33" fill="#c0c0c0"/><rect x="195" y="711" width="1" height="32" fill="#c0c0c0"/><rect x="203" y="711" width="1" height="29" fill="#c0c0c0"/><rect x="211" y="711" width="1" height="24" fill="#c0c0c0"/><rect x="219" y="711" width="1" height="23" fill="#c0c0c0"/><rect x="227" y="711" width="1" height="20" fill="#c0c0c0"/><rect x="235" y="711" width="1" height="17" fill="#c0c0c0"/><rect x="243" y="711" width="1" height="16" fill="#c0c0c0"/><rect x="251" y="711" width="1" height="16" fill="#c0c0c0"/><rect x="259" y="711" width="1" height="14" fill="#c0c0c0"/><rect x="267" y="711" width="1" height="9" fill="#c0c0c0"/><rect x="275" y="711" width="1" height="5" fill="#c0c0c0"/><rect x="283" y="711" width="1" height="3" fill="#c0c0c0"/><rect x="291" y="711" width="1" height="4" fill="#c0c0c0"/><rect x="299" y="711" width="1" height="4" fill="#c0c0c0"/><rect x="307" y="711" width="1" height="9" fill="#c0c0c0"/><rect x="315" y="711" width="1" height="12" fill="#c0c0c0"/><rect x="323" y="711" width="1" height="15" fill="#c0c0c0"/><rect x="331" y="711" width="1" height="16" fill="#c0c0c0"/><rect x="339" y="711" width="1" height="19" fill="#c0c0c0"/><rect x="347" y="711" width="1" height="18" fill="#c0c0c0"/><rect x="355" y="711" width="1" height="17" fill="#c0c0c0"/><rect x="363" y="711" width="1" height="16" fill="#c0c0c0"/><rect x="371" y="711" width="1" height="14" fill="#c0c0c0"/><rect x="379" y="711" width="1" height="13" fill="#c0c0c0"/><rect x="387" y="711" width="1" height="11" fill="#c0c0c0"/><rect x="395" y="711" width="1" height="13" fill="#c0c0c0"/><rect x="403" y="711" width="1" height="18" fill="#c0c0c0"/><rect x="411" y="711" width="1" height="20" fill="#c0c0c0"/><rect x="419" y="711" width="1" height="22" fill="#c0c0c0"/><rect x="427" y="711" width="1" height="22" fill="#c0c0c0"/><rect x="435" y="711" width="1" height="16" fill="#c0c0c0"/><rect x="443" y="711" width="1" height="11" fill="#c0c0c0"/><rect x="451" y="711" width="1" height="1" fill="#c0c0c0"/><rect x="459" y="704" width="1" height="8" fill="#c0c0c0"/><rect x="467" y="698" width="1" height="14" fill="#c0c0c0"/><rect x="475" y="693" width="1" height="19" fill="#c0c0c0"/><rect x="483" y="690" width="1" height="22" fill="#c0c0c0"/><rect x="491" y="688" width="1" height="24" fill="#c0c0c0"/><rect x="499" y="687" width="1" height="25" fill="#c0c0c0"/><rect x="507" y="687" width="1" height="25" fill="#c0c0c0"/><rect x="515" y="687" width="1" height="25" fill="#c0c0c0"/><rect x="523" y="684" width="1" height="28" fill="#c0c0c0"/><rect x="531" y="682" width="1" height="30" fill="#c0c0c0"/><rect x="539" y="681" width="1" height="31" fill="#c0c0c0"/><rect x="547" y="683" width="1" height="29" fill="#c0c0c0"/><rect x="555" y="682" width="1" height="30" fill="#c0c0c0"/><rect x="563" y="682" width="1" height="30" fill="#c0c0c0"/><rect x="571" y="684" width="1" height="28" fill="#c0c0c0"/><rect x="579" y="683" width="1" height="29" fill="#c0c0c0"/><rect x="587" y="682" width="1" height="30" fill="#c0c0c0"/><rect x="595" y="680" width="1" height="32" fill="#c0c0c0"/><rect x="603" y="678" width="1" height="34" fill="#c0c0c0"/><rect x="611" y="677" width="1" height="35" fill="#c0c0c0"/><rect x="619" y="678" width="1" height="34" fill="#c0c0c0"/><rect x="627" y="680" width="1" height="32" fill="#c0c0c0"/><rect x="635" y="680" width="1" height="32" fill="#c0c0c0"/><rect x="643" y="677" width="1" height="35" fill="#c0c0c0"/><rect x="651" y="676" width="1" height="36" fill="#c0c0c0"/><rect x="659" y="675" width="1" height="37" fill="#c0c0c0"/><rect x="667" y="675" width="1" height="37" fill="#c0c0c0"/><rect x="675" y="676" width="1" height="36" fill="#c0c0c0"/><rect x="683" y="675" width="1" height="37" fill="#c0c0c0"/><rect x="691" y="672" width="1" height="40" fill="#c0c0c0"/><rect x="699" y="669" width="1" height="43" fill="#c0c0c0"/><rect x="707" y="667" width="1" height="45" fill="#c0c0c0"/><rect x="715" y="666" width="1" height="46" fill="#c0c0c0"/><rect x="723" y="666" width="1" height="46" fill="#c0c0c0"/><rect x="731" y="665" width="1" height="47" fill="#c0c0c0"/><rect x="739" y="662" width="1" height="50" fill="#c0c0c0"/><rect x="747" y="660" width="1" height="52" fill="#c0c0c0"/><rect x="755" y="659" width="1" height="53" fill="#c0c0c0"/><rect x="763" y="662" width="1" height="50" fill="#c0c0c0"/><rect x="771" y="667" width="1" height="45" fill="#c0c0c0"/><rect x="779" y="668" width="1" height="44" fill="#c0c0c0"/><rect x="787" y="669" width="1" height="43" fill="#c0c0c0"/><rect x="795" y="670" width="1" height="42" fill="#c0c0c0"/><rect x="803" y="673" width="1" height="39" fill="#c0c0c0"/><rect x="811" y="673" width="1" height="39" fill="#c0c0c0"/><rect x="819" y="670" width="1" height="42" fill="#c0c0c0"/><rect x="827" y="666" width="1" height="46" fill="#c0c0c0"/><rect x="835" y="665" width="1" height="47" fill="#c0c0c0"/><rect x="843" y="665" width="1" height="47" fill="#c0c0c0"/><rect x="851" y="663" width="1" height="49" fill="#c0c0c0"/><rect x="859" y="660" width="1" height="52" fill="#c0c0c0"/><rect x="867" y="660" width="1" height="52" fill="#c0c0c0"/><rect x="875" y="658" width="1" height="54" fill="#c0c0c0"/><rect x="883" y="659" width="1" height="53" fill="#c0c0c0"/><rect x="891" y="663" width="1" height="49" fill="#c0c0c0"/><rect x="899" y="666" width="1" height="46" fill="#c0c0c0"/><rect x="907" y="667" width="1" height="45" fill="#c0c0c0"/><rect x="915" y="667" width="1" height="45" fill="#c0c0c0"/><rect x="923" y="671" width="1" height="41" fill="#c0c0c0"/><rect x="931" y="675" width="1" height="37" fill="#c0c0c0"/><rect x="939" y="679" width="1" height="33" fill="#c0c0c0"/><rect x="947" y="682" width="1" height="30" fill="#c0c0c0"/><rect x="955" y="682" width="1" height="30" fill="#c0c0c0"/><rect x="963" y="682" width="1" height="30" fill="#c0c0c0"/><rect x="971" y="684" width="1" height="28" fill="#c0c0c0"/><rect x="979" y="686" width="1" height="26" fill="#c0c0c0"/><rect x="987" y="689" width="1" height="23" fill="#c0c0c0"/><rect x="995" y="689" width="1" height="23" fill="#c0c0c0"/><rect x="1003" y="693" width="1" height="19" fill="#c0c0c0"/><rect x="1011" y="697" width="1" height="15" fill="#c0c0c0"/><rect x="1019" y="699" width="1" height="13" fill="#c0c0c0"/><rect x="1027" y="704" width="1" height="8" fill="#c0c0c0"/><rect x="1035" y="708" width="1" height="4" fill="#c0c0c0"/><rect x="1043" y="711" width="1" height="4" fill="#c0c0c0"/><rect x="1051" y="711" width="1" height="6" fill="#c0c0c0"/><rect x="1059" y="711" width="1" height="9" fill="#c0c0c0"/><rect x="1067" y="711" width="1" height="8" fill="#c0c0c0"/><rect x="1075" y="711" width="1" height="7" fill="#c0c0c0"/><rect x="1083" y="711" width="1" height="3" fill="#c0c0c0"/><rect x="1091" y="710" width="1" height="2" fill="#c0c0c0"/><rect x="1099" y="707" width="1" height="5" fill="#c0c0c0"/><rect x="1107" y="703" width="1" height="9" fill="#c0c0c0"/><rect x="1115" y="701" width="1" height="11" fill="#c0c0c0"/><rect x="1123" y="699" width="1" height="13" fill="#c0c0c0"/><rect x="1131" y="696" width="1" height="16" fill="#c0c0c0"/><rect x="1139" y="694" width="1" height="18" fill="#c0c0c0"/><rect x="1147" y="695" width="1" height="17" fill="#c0c0c0"/><rect x="1155" y="696" width="1" height="16" fill="#c0c0c0"/><rect x="1163" y="690" width="1" height="22" fill="#c0c0c0"/><rect x="1171" y="686" width="1" height="26" fill="#c0c0c0"/><rect x="1179" y="681" width="1" height="31" fill="#c0c0c0"/><rect x="1187" y="677" width="1" height="35" fill="#c0c0c0"/><rect x="1195" y="674" width="1" height="38" fill="#c0c0c0"/><rect x="1203" y="670" width="1" height="42" fill="#c0c0c0"/><rect x="1211" y="678" width="1" height="34" fill="#c0c0c0"/><rect x="1219" y="687" width="1" height="25" fill="#c0c0c0"/><rect x="1227" y="690" width="1" height="22" fill="#c0c0c0"/><rect x="1235" y="691" width="1" height="21" fill="#c0c0c0"/><rect x="1243" y="692" width="1" height="20" fill="#c0c0c0"/></g>
<polyline points="3.5,684.8 11.5,683.2 19.5,681.6 27.5,680.0 35.5,678.5 43.5,677.7 51.5,678.7 59.5,679.6 67.5,681.6 75.5,683.6 83.5,685.5 91.5,687.5 99.5,688.9 107.5,690.3 115.5,691.5 123.5,692.7 131.5,693.5 139.5,694.3 147.5,696.8 155.5,699.4 163.5,704.3 171.5,709.3 179.5,711.9 187.5,717.3 195.5,722.7 203.5,727.6 211.5,731.3 219.5,734.2 227.5,735.8 235.5,736.0 243.5,735.0 251.5,733.4 259.5,731.3 267.5,728.7 275.5,726.1 283.5,723.7 291.5,721.6 299.5,719.8 307.5,718.9 315.5,718.4 323.5,718.3 331.5,718.5 339.5,719.6 347.5,721.0 355.5,722.6 363.5,723.9 371.5,725.0 379.5,725.5 387.5,725.3 395.5,725.1 403.5,725.3 411.5,725.5 419.5,726.0 427.5,726.6 435.5,726.6 443.5,726.3 451.5,725.0 459.5,723.2 467.5,720.4 475.5,716.5 483.5,712.0 491.5,707.1 499.5,702.0 507.5,697.7 515.5,693.8 523.5,690.7 531.5,688.3 539.5,686.4 547.5,685.3 555.5,684.5 563.5,683.9 571.5,683.6 579.5,683.1 587.5,682.6 595.5,682.2 603.5,681.7 611.5,681.4 619.5,680.8 627.5,680.5 635.5,680.3 643.5,679.4 651.5,678.7 659.5,677.9 667.5,677.3 675.5,677.0 683.5,676.8 691.5,676.1 699.5,675.0 707.5,673.6 715.5,672.4 723.5,671.3 731.5,670.1 739.5,668.7 747.5,666.9 755.5,665.2 763.5,664.1 771.5,663.9 779.5,664.0 787.5,664.3 795.5,664.8 803.5,665.6 811.5,666.9 819.5,667.9 827.5,668.6 835.5,668.9 843.5,668.6 851.5,668.0 859.5,667.1 867.5,665.9 875.5,664.3 883.5,662.8 891.5,662.1 899.5,662.1 907.5,662.3 915.5,662.6 923.5,663.5 931.5,665.1 939.5,667.3 947.5,669.9 955.5,672.5 963.5,674.5 971.5,676.5 979.5,678.7 987.5,681.1 995.5,683.1 1003.5,685.1 1011.5,687.0 1019.5,689.0 1027.5,691.4 1035.5,694.3 1043.5,697.6 1051.5,700.9 1059.5,704.3 1067.5,707.5 1075.5,710.1 1083.5,712.0 1091.5,713.1 1099.5,713.5 1107.5,712.9 1115.5,711.4 1123.5,709.5 1131.5,706.9 1139.5,704.2 1147.5,701.8 1155.5,699.9 1163.5,697.7 1171.5,695.4 1179.5,693.0 1187.5,690.3 1195.5,687.6 1203.5,684.7 1211.5,682.9 1219.5,682.0 1227.5,681.3 1235.5,681.5 1243.5,682.1" fill="none" stroke="#ff0000" stroke-width="1" stroke-dasharray="3,3"/>
<text x="7" y="665" font-size="9.8" fill="#000" textLength="147.6" lengthAdjust="spacingAndGlyphs">MACD(12,26,9) 0.002990 0.004472</text>
<text x="1583.2" y="663.1" font-size="10" fill="#000" textLength="33" lengthAdjust="spacingAndGlyphs">0.00884</text>
<text x="1583.2" y="715.0" font-size="10" fill="#000" textLength="17.3" lengthAdjust="spacingAndGlyphs">0.00</text>
<text x="1583.2" y="745.2" font-size="10" fill="#000" textLength="35.4" lengthAdjust="spacingAndGlyphs">-0.00565</text>
<rect x="1580" y="711" width="2" height="1" fill="#000"/>
<rect x="1580" y="654" width="2" height="1" fill="#000"/>
<rect x="1580" y="746" width="2" height="1" fill="#000"/>
<rect x="3" y="749" width="1" height="3" fill="#000"/>
<text x="2.5" y="761" font-size="9.8" fill="#000" textLength="46" lengthAdjust="spacingAndGlyphs">1 Sep 2020</text>
<rect x="67" y="749" width="1" height="3" fill="#000"/>
<text x="66.5" y="761" font-size="9.8" fill="#000" textLength="51" lengthAdjust="spacingAndGlyphs">10 Sep 2020</text>
<rect x="131" y="749" width="1" height="3" fill="#000"/>
<text x="130.5" y="761" font-size="9.8" fill="#000" textLength="51" lengthAdjust="spacingAndGlyphs">19 Sep 2020</text>
<rect x="195" y="749" width="1" height="3" fill="#000"/>
<text x="194.5" y="761" font-size="9.8" fill="#000" textLength="51" lengthAdjust="spacingAndGlyphs">29 Sep 2020</text>
<rect x="259" y="749" width="1" height="3" fill="#000"/>
<text x="258.5" y="761" font-size="9.8" fill="#000" textLength="46" lengthAdjust="spacingAndGlyphs">8 Oct 2020</text>
<rect x="323" y="749" width="1" height="3" fill="#000"/>
<text x="322.5" y="761" font-size="9.8" fill="#000" textLength="51" lengthAdjust="spacingAndGlyphs">17 Oct 2020</text>
<rect x="387" y="749" width="1" height="3" fill="#000"/>
<text x="386.5" y="761" font-size="9.8" fill="#000" textLength="51" lengthAdjust="spacingAndGlyphs">27 Oct 2020</text>
<rect x="451" y="749" width="1" height="3" fill="#000"/>
<text x="450.5" y="761" font-size="9.8" fill="#000" textLength="49" lengthAdjust="spacingAndGlyphs">5 Nov 2020</text>
<rect x="515" y="749" width="1" height="3" fill="#000"/>
<text x="514.5" y="761" font-size="9.8" fill="#000" textLength="54" lengthAdjust="spacingAndGlyphs">14 Nov 2020</text>
<rect x="579" y="749" width="1" height="3" fill="#000"/>
<text x="578.5" y="761" font-size="9.8" fill="#000" textLength="54" lengthAdjust="spacingAndGlyphs">24 Nov 2020</text>
<rect x="643" y="749" width="1" height="3" fill="#000"/>
<text x="642.5" y="761" font-size="9.8" fill="#000" textLength="47" lengthAdjust="spacingAndGlyphs">3 Dec 2020</text>
<rect x="707" y="749" width="1" height="3" fill="#000"/>
<text x="706.5" y="761" font-size="9.8" fill="#000" textLength="52" lengthAdjust="spacingAndGlyphs">12 Dec 2020</text>
<rect x="771" y="749" width="1" height="3" fill="#000"/>
<text x="770.5" y="761" font-size="9.8" fill="#000" textLength="52" lengthAdjust="spacingAndGlyphs">22 Dec 2020</text>
<rect x="835" y="749" width="1" height="3" fill="#000"/>
<text x="834.5" y="761" font-size="9.8" fill="#000" textLength="44" lengthAdjust="spacingAndGlyphs">1 Jan 2021</text>
<rect x="899" y="749" width="1" height="3" fill="#000"/>
<text x="898.5" y="761" font-size="9.8" fill="#000" textLength="49" lengthAdjust="spacingAndGlyphs">12 Jan 2021</text>
<rect x="963" y="749" width="1" height="3" fill="#000"/>
<text x="962.5" y="761" font-size="9.8" fill="#000" textLength="49" lengthAdjust="spacingAndGlyphs">21 Jan 2021</text>
<rect x="1027" y="749" width="1" height="3" fill="#000"/>
<text x="1026.5" y="761" font-size="9.8" fill="#000" textLength="49" lengthAdjust="spacingAndGlyphs">30 Jan 2021</text>
<rect x="1091" y="749" width="1" height="3" fill="#000"/>
<text x="1090.5" y="761" font-size="9.8" fill="#000" textLength="46" lengthAdjust="spacingAndGlyphs">9 Feb 2021</text>
<rect x="1155" y="749" width="1" height="3" fill="#000"/>
<text x="1154.5" y="761" font-size="9.8" fill="#000" textLength="51" lengthAdjust="spacingAndGlyphs">18 Feb 2021</text>
<rect x="1219" y="749" width="1" height="3" fill="#000"/>
<text x="1218.5" y="761" font-size="9.8" fill="#000" textLength="51" lengthAdjust="spacingAndGlyphs">27 Feb 2021</text>
<rect x="0" y="769" width="1620" height="1" fill="#e3e3e3"/>
<rect x="0" y="771" width="208" height="1" fill="#000"/>
<rect x="312" y="771" width="1308" height="1" fill="#000"/>
<rect x="0" y="772" width="1620" height="1" fill="#fff"/>
<rect x="0" y="773" width="208" height="16" fill="#f0f0f0"/>
<rect x="312" y="773" width="1308" height="16" fill="#f0f0f0"/>
<rect x="0" y="790" width="1620" height="1" fill="#fff"/>
<rect x="0" y="791" width="1620" height="4" fill="#f0f0f0"/>
<rect x="209" y="770" width="103" height="19" fill="#fff"/>
<rect x="208" y="771" width="1" height="19" fill="#000"/>
<rect x="311" y="771" width="1" height="19" fill="#000"/>
<rect x="208" y="789" width="104" height="1" fill="#000"/>
<text x="16" y="786" font-size="12" fill="#6d6d6d" textLength="80" lengthAdjust="spacingAndGlyphs">EURUSD,Daily</text>
<text x="118" y="786" font-size="12" fill="#6d6d6d" textLength="79" lengthAdjust="spacingAndGlyphs">USDCHF,Daily</text>
<text x="219" y="786" font-size="12" fill="#000" textLength="82" lengthAdjust="spacingAndGlyphs">AUDUSD,Daily</text>
<text x="323" y="786" font-size="12" fill="#6d6d6d" textLength="80" lengthAdjust="spacingAndGlyphs">USDCAD,Daily</text>
<text x="426" y="786" font-size="12" fill="#6d6d6d" textLength="83" lengthAdjust="spacingAndGlyphs">USDCNH,Daily</text>
<text x="532" y="786" font-size="12" fill="#6d6d6d" textLength="80" lengthAdjust="spacingAndGlyphs">EURUSD,Daily</text>
<text x="636" y="786" font-size="12" fill="#6d6d6d" textLength="68" lengthAdjust="spacingAndGlyphs">GBPUSD,H4</text>
<text x="727" y="786" font-size="12" fill="#6d6d6d" textLength="68" lengthAdjust="spacingAndGlyphs">XAUUSD,H1</text>
<text x="819" y="786" font-size="12" fill="#6d6d6d" textLength="49" lengthAdjust="spacingAndGlyphs">HK50,H1</text>
<text x="891" y="786" font-size="12" fill="#6d6d6d" textLength="57" lengthAdjust="spacingAndGlyphs">UK100,H1</text>
<text x="971" y="786" font-size="12" fill="#6d6d6d" textLength="57" lengthAdjust="spacingAndGlyphs">UK100,H1</text>
<text x="1051" y="786" font-size="12" fill="#6d6d6d" textLength="57" lengthAdjust="spacingAndGlyphs">GER30,H1</text>
<text x="1130" y="786" font-size="12" fill="#6d6d6d" textLength="54" lengthAdjust="spacingAndGlyphs">FRA40,H1</text>
<text x="1206" y="786" font-size="12" fill="#6d6d6d" textLength="63" lengthAdjust="spacingAndGlyphs">USOil,Daily</text>
<text x="1290" y="786" font-size="12" fill="#6d6d6d" textLength="63" lengthAdjust="spacingAndGlyphs">USDJPY,H1</text>
<text x="1374" y="786" font-size="12" fill="#6d6d6d" textLength="59" lengthAdjust="spacingAndGlyphs">DJ30,Daily</text>
<text x="1454" y="786" font-size="12" fill="#6d6d6d" textLength="79" lengthAdjust="spacingAndGlyphs">CHINA300,H1</text>
<text x="1554" y="786" font-size="12" fill="#6d6d6d" textLength="35" lengthAdjust="spacingAndGlyphs">USOil,</text>
<rect x="108" y="774" width="1" height="14" fill="#6d6d6d"/>
<rect x="416" y="774" width="1" height="14" fill="#6d6d6d"/>
<rect x="520" y="774" width="1" height="14" fill="#6d6d6d"/>
<rect x="624" y="774" width="1" height="14" fill="#6d6d6d"/>
<rect x="716" y="774" width="1" height="14" fill="#6d6d6d"/>
<rect x="809" y="774" width="1" height="14" fill="#6d6d6d"/>
<rect x="880" y="774" width="1" height="14" fill="#6d6d6d"/>
<rect x="960" y="774" width="1" height="14" fill="#6d6d6d"/>
<rect x="1040" y="774" width="1" height="14" fill="#6d6d6d"/>
<rect x="1120" y="774" width="1" height="14" fill="#6d6d6d"/>
<rect x="1197" y="774" width="1" height="14" fill="#6d6d6d"/>
<rect x="1280" y="774" width="1" height="14" fill="#6d6d6d"/>
<rect x="1364" y="774" width="1" height="14" fill="#6d6d6d"/>
<rect x="1444" y="774" width="1" height="14" fill="#6d6d6d"/>
<rect x="1544" y="774" width="1" height="14" fill="#6d6d6d"/>
<path d="M1598 777 L1598 783.5 L1594.8 780.2 Z" fill="#a8a8a8" shape-rendering="auto"/>
<path d="M1613.5 776.5 L1613.5 783.5 L1617.3 780 Z" fill="#000" shape-rendering="auto"/></svg>
</body></html>
